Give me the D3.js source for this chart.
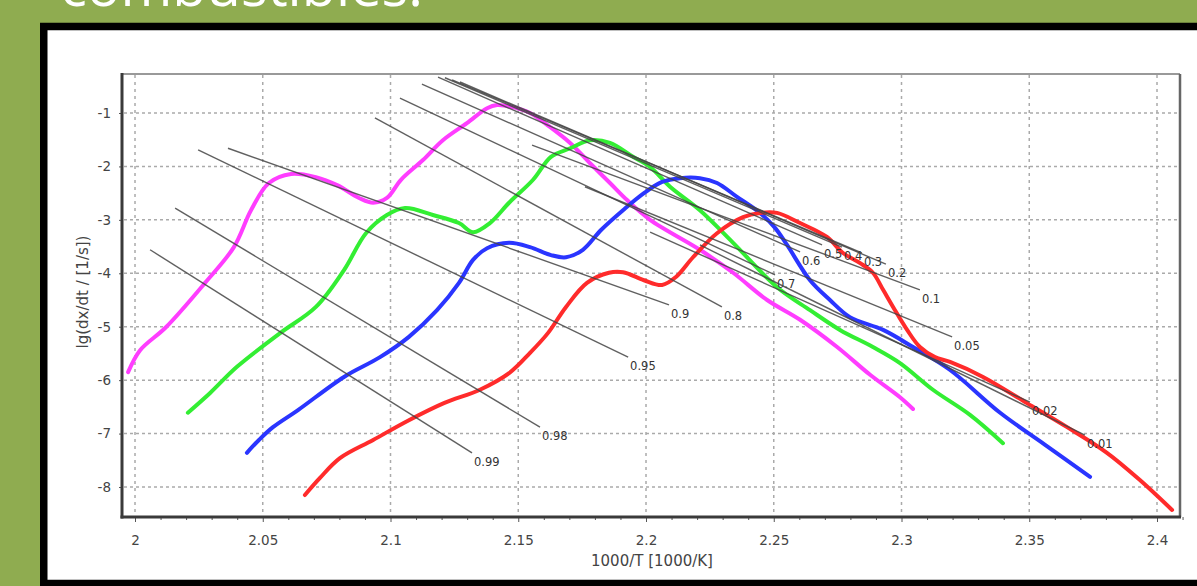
<!DOCTYPE html>
<html>
<head>
<meta charset="utf-8">
<script src="https://cdn.jsdelivr.net/npm/d3@7/dist/d3.min.js"></script>
<style>
  body { margin: 0; background: #8fac50; }
  svg { display: block; }
</style>
</head>
<body>
<svg width="1197" height="586"></svg>
<script>
// curves: lg(dx/dt) against 1000/T, one per heating rate
var magentaX = [1.9973, 2.002, 2.0121, 2.0274, 2.0387, 2.0454, 2.0524, 2.0611, 2.0708, 2.0791, 2.0877, 2.0932, 2.0986, 2.1041, 2.1127, 2.1205, 2.1299, 2.1378, 2.1417, 2.1479, 2.1546, 2.1624, 2.1703, 2.1781, 2.1859, 2.1926, 2.2016, 2.2211, 2.2341, 2.2474, 2.2603, 2.2748, 2.2877, 2.2994, 2.3045];
var magentaY = [-5.85, -5.44, -5.01, -4.18, -3.51, -2.82, -2.31, -2.14, -2.20, -2.35, -2.59, -2.68, -2.59, -2.25, -1.88, -1.51, -1.19, -0.91, -0.85, -0.89, -1.00, -1.26, -1.56, -1.94, -2.31, -2.63, -3.00, -3.56, -3.99, -4.50, -4.87, -5.38, -5.90, -6.32, -6.54];

var greenX = [2.0207, 2.0294, 2.0399, 2.0568, 2.0708, 2.0818, 2.0904, 2.0986, 2.1057, 2.1166, 2.1268, 2.1323, 2.1389, 2.1464, 2.1558, 2.1628, 2.1703, 2.1781, 2.1859, 2.1949, 2.2016, 2.2094, 2.2211, 2.2341, 2.2513, 2.2642, 2.2759, 2.2888, 2.2994, 2.3123, 2.3268, 2.3397];
var greenY = [-6.61, -6.24, -5.75, -5.12, -4.63, -3.94, -3.25, -2.91, -2.78, -2.91, -3.06, -3.23, -3.06, -2.68, -2.25, -1.82, -1.66, -1.51, -1.56, -1.82, -2.01, -2.38, -2.82, -3.43, -4.26, -4.69, -5.06, -5.38, -5.68, -6.18, -6.65, -7.18];

var blueX = [2.0438, 2.0485, 2.054, 2.0638, 2.0818, 2.0959, 2.1072, 2.1182, 2.1268, 2.1323, 2.1378, 2.1464, 2.1546, 2.1628, 2.1687, 2.1753, 2.1824, 2.191, 2.1992, 2.2063, 2.2133, 2.2211, 2.2278, 2.2356, 2.2446, 2.2505, 2.2552, 2.2642, 2.272, 2.2798, 2.2928, 2.3045, 2.319, 2.3386, 2.3562, 2.3738];
var blueY = [-7.36, -7.12, -6.88, -6.56, -5.94, -5.57, -5.19, -4.69, -4.18, -3.75, -3.53, -3.43, -3.51, -3.66, -3.70, -3.56, -3.19, -2.82, -2.50, -2.29, -2.22, -2.22, -2.31, -2.57, -2.87, -3.15, -3.47, -4.13, -4.50, -4.82, -5.06, -5.38, -5.81, -6.61, -7.21, -7.81];

var redX = [2.0665, 2.0724, 2.0802, 2.0932, 2.1072, 2.1209, 2.135, 2.1464, 2.1546, 2.1616, 2.1687, 2.1769, 2.1855, 2.191, 2.1992, 2.2063, 2.2117, 2.2184, 2.2278, 2.238, 2.2446, 2.2513, 2.2603, 2.2708, 2.2771, 2.2838, 2.2888, 2.2928, 2.2967, 2.3022, 2.3072, 2.3131, 2.319, 2.3319, 2.3491, 2.3648, 2.3804, 2.3933, 2.4059];
var redY = [-8.15, -7.83, -7.46, -7.12, -6.75, -6.43, -6.18, -5.87, -5.49, -5.12, -4.63, -4.18, -3.99, -3.98, -4.13, -4.22, -4.07, -3.70, -3.25, -2.95, -2.87, -2.87, -3.06, -3.32, -3.62, -3.81, -3.99, -4.31, -4.63, -5.06, -5.38, -5.57, -5.66, -5.94, -6.43, -6.88, -7.36, -7.87, -8.43];

// iso-conversion lines
var isoLabels = ['0.99', '0.98', '0.95', '0.9', '0.8', '0.7', '0.6', '0.5', '0.4', '0.3', '0.2', '0.1', '0.05', '0.02', '0.01'];
var isoX1 = [2.0059, 2.0157, 2.0247, 2.0364, 2.0939, 2.1037, 2.1123, 2.1186, 2.1213, 2.1241, 2.1272, 2.1554, 2.1761, 2.2016, 2.2211];
var isoY1 = [-3.56, -2.78, -1.69, -1.66, -1.09, -0.72, -0.46, -0.33, -0.34, -0.38, -0.42, -1.60, -2.38, -3.23, -3.47];
var isoX2 = [2.1319, 2.1585, 2.193, 2.209, 2.2297, 2.2505, 2.2603, 2.2689, 2.2767, 2.2845, 2.2939, 2.3072, 2.3198, 2.3503, 2.3718];
var isoY2 = [-7.36, -6.88, -5.57, -4.59, -4.63, -4.03, -3.60, -3.47, -3.51, -3.62, -3.83, -4.31, -5.19, -6.41, -7.03];

var xTicks = [2, 2.05, 2.1, 2.15, 2.2, 2.25, 2.3, 2.35, 2.4];
var yTicks = [-1, -2, -3, -4, -5, -6, -7, -8];

var svg = d3.select('svg');

// slide title (cut off at the top)
svg.append('text')
  .attr('x', 60).attr('y', 6)
  .attr('fill', '#fff')
  .style('font-family', 'Open Sans')
  .style('font-size', '56px')
  .text('combustibles.');

// white panel with black frame
svg.append('rect')
  .attr('x', 43.75).attr('y', 26.5)
  .attr('width', 1200).attr('height', 557)
  .attr('fill', '#fff')
  .attr('stroke', '#000')
  .attr('stroke-width', 7.5);

var x = d3.scaleLinear().domain([1.99491, 2.409]).range([122, 1180]);
var y = d3.scaleLinear().domain([-0.2701, -8.5615]).range([74, 517]);

var g = svg.append('g');

// grid
g.selectAll('.hgrid').data(yTicks).enter().append('line')
  .attr('x1', 124).attr('x2', 1179)
  .attr('y1', function(d){ return y(d); })
  .attr('y2', function(d){ return y(d); })
  .attr('stroke', '#aaa').attr('stroke-width', 1.5)
  .attr('stroke-dasharray', '3,3');

g.selectAll('.vgrid').data(xTicks).enter().append('line')
  .attr('y1', 75).attr('y2', 516)
  .attr('x1', function(d){ return x(d); })
  .attr('x2', function(d){ return x(d); })
  .attr('stroke', '#aaa').attr('stroke-width', 1.5)
  .attr('stroke-dasharray', '3,4');

// curves
var line = d3.line()
  .x(function(d){ return x(d[0]); })
  .y(function(d){ return y(d[1]); })
  .curve(d3.curveCatmullRom.alpha(0.5));

var series = [
  { xs: magentaX, ys: magentaY, color: '#ff3dff' },
  { xs: greenX, ys: greenY, color: '#33ee33' },
  { xs: blueX, ys: blueY, color: '#2a35ff' },
  { xs: redX, ys: redY, color: '#ff2b2b' }
];

series.forEach(function(s){
  var pts = s.xs.map(function(v, i){ return [v, s.ys[i]]; });
  g.append('path')
    .attr('d', line(pts))
    .attr('fill', 'none')
    .attr('stroke', s.color)
    .attr('stroke-width', 4)
    .attr('stroke-linecap', 'round')
    .attr('stroke-linejoin', 'round');
});

// iso-conversion lines and labels
isoLabels.forEach(function(lab, i){
  g.append('line')
    .attr('x1', x(isoX1[i])).attr('y1', y(isoY1[i]))
    .attr('x2', x(isoX2[i])).attr('y2', y(isoY2[i]))
    .attr('stroke', '#444').attr('stroke-width', 1.4)
    .attr('stroke-opacity', 0.85);
  g.append('text')
    .attr('x', x(isoX2[i]) + 2)
    .attr('y', y(isoY2[i]) + 13)
    .attr('fill', '#333')
    .style('font-family', 'DejaVu Sans')
    .style('font-size', '11.5px')
    .text(lab);
});

// frame
g.append('line').attr('x1', 122).attr('x2', 1180).attr('y1', 74).attr('y2', 74)
  .attr('stroke', '#999').attr('stroke-width', 2);
g.append('line').attr('x1', 1180).attr('x2', 1180).attr('y1', 74).attr('y2', 517)
  .attr('stroke', '#666').attr('stroke-width', 2.5);

// axes
var minor = d3.range(1.99, 2.41, 0.01).filter(function(v){
  return v >= 1.995 && Math.abs(v * 20 - Math.round(v * 20)) > 0.01;
});

var xMinor = g.append('g').attr('transform', 'translate(0,517)')
  .call(d3.axisBottom(x).tickValues(minor).tickSize(3).tickFormat(''));
xMinor.select('.domain').remove();
xMinor.selectAll('line').attr('stroke', '#555');

var xAxis = g.append('g').attr('transform', 'translate(0,517)')
  .call(d3.axisBottom(x).tickValues(xTicks).tickSize(5).tickPadding(13)
    .tickFormat(function(d){ return String(+d.toFixed(2)); }));
xAxis.select('.domain').remove();
xAxis.selectAll('line').attr('stroke', '#555');
xAxis.selectAll('text').attr('fill', '#444')
  .style('font-family', 'DejaVu Sans').style('font-size', '13.5px');

var yAxis = g.append('g').attr('transform', 'translate(122,0)')
  .call(d3.axisLeft(y).tickValues(yTicks).tickSize(3).tickPadding(8)
    .tickFormat(function(d){ return String(d); }));
yAxis.select('.domain').remove();
yAxis.selectAll('line').attr('stroke', '#555');
yAxis.selectAll('text').attr('fill', '#444')
  .style('font-family', 'DejaVu Sans').style('font-size', '13.5px');

g.append('line').attr('x1', 122).attr('x2', 122).attr('y1', 73).attr('y2', 518.5)
  .attr('stroke', '#3a3a3a').attr('stroke-width', 3);
g.append('line').attr('x1', 120.5).attr('x2', 1181).attr('y1', 517).attr('y2', 517)
  .attr('stroke', '#3a3a3a').attr('stroke-width', 3);

// axis titles
g.append('text')
  .attr('x', 652).attr('y', 566)
  .attr('text-anchor', 'middle')
  .attr('fill', '#444')
  .style('font-family', 'DejaVu Sans').style('font-size', '15px')
  .text('1000/T [1000/K]');

g.append('text')
  .attr('transform', 'translate(88,292) rotate(-90)')
  .attr('text-anchor', 'middle')
  .attr('fill', '#444')
  .style('font-family', 'DejaVu Sans').style('font-size', '15px')
  .text('lg(dx/dt / [1/s])');
</script>
</body>
</html>
